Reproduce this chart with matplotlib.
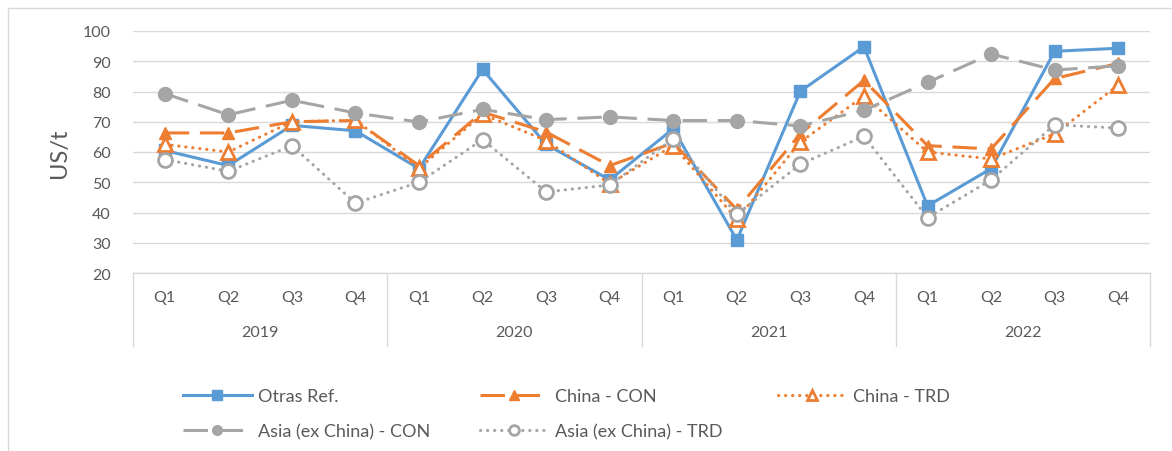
import matplotlib
matplotlib.use("Agg")
import matplotlib.pyplot as plt
from matplotlib.lines import Line2D
from matplotlib.patches import Rectangle

plt.rcParams['font.family'] = ['Lato', 'DejaVu Sans']

years = ["2019", "2020", "2021", "2022"]
quarters = ["Q1", "Q2", "Q3", "Q4"]

otras_ref = [60.5, 55.5, 68.8, 67.0, 54.5, 87.3, 62.5, 50.8,
             67.7, 30.9, 80.1, 94.8, 42.2, 54.5, 93.3, 94.3]
china_con = [66.3, 66.3, 70.0, 70.4, 55.5, 73.2, 66.6, 55.5,
             63.0, 41.0, 66.0, 83.7, 62.1, 61.0, 84.3, 89.3]
china_trd = [62.5, 60.0, 70.0, 70.5, 54.6, 72.5, 63.8, 49.5,
             62.1, 37.8, 63.3, 78.5, 60.0, 57.7, 66.0, 82.1]
asia_con = [79.3, 72.3, 77.1, 72.9, 69.9, 74.1, 70.7, 71.6,
            70.4, 70.4, 68.6, 73.8, 83.0, 92.4, 87.1, 88.5]
asia_trd = [57.5, 53.6, 62.1, 43.1, 50.0, 64.1, 46.8, 49.1,
            64.4, 39.4, 56.0, 65.2, 38.3, 50.8, 69.0, 67.9]

BLUE = "#5B9BD5"
ORANGE = "#ED7D31"
GREY = "#A5A5A5"
TEXT = "#595959"
GRID = "#D9D9D9"

W, H = 1172, 452
fig = plt.figure(figsize=(W / 100, H / 100), dpi=100)

# chart-area frame
fig.patches.append(Rectangle((8 / W, -0.1), 1.2, 1 - 9 / H + 0.1,
                             transform=fig.transFigure, fill=False,
                             edgecolor="#D9D9D9", lw=1.0))

ax = fig.add_axes([133 / W, 1 - 274 / H, (1150 - 133) / W, (274 - 32) / H])

n = len(otras_ref)
x = list(range(n))

lw = 2.2
DASH = (8, 3.5)
DOT = (0.1, 2.2)

series = [
    dict(y=otras_ref, label="Otras Ref.", color=BLUE, ls="-", marker="s",
         ms=8, mfc=BLUE, mew=1, lms=6.5),
    dict(y=china_con, label="China - CON", color=ORANGE, ls=DASH, marker="^",
         ms=9, mfc=ORANGE, mew=1, lms=7),
    dict(y=china_trd, label="China - TRD", color=ORANGE, ls=DOT, marker="^",
         ms=10, mfc="white", mew=2, lms=7),
    dict(y=asia_con, label="Asia (ex China) - CON", color=GREY, ls=DASH, marker="o",
         ms=10, mfc=GREY, mew=1, lms=7),
    dict(y=asia_trd, label="Asia (ex China) - TRD", color=GREY, ls=DOT, marker="o",
         ms=10, mfc="white", mew=2, lms=7),
]

legend_handles = {}
for z, s in enumerate(series):
    kw = dict(color=s["color"], lw=lw, marker=s["marker"], mfc=s["mfc"],
              mec=s["color"], mew=s["mew"])
    if s["ls"] == "-":
        kw["linestyle"] = "-"
    else:
        kw["dashes"] = s["ls"]
        if s["ls"] is DOT:
            kw["dash_capstyle"] = "round"
    ax.plot(x, s["y"], ms=s["ms"], zorder=3 + z, **kw)
    legend_handles[s["label"]] = Line2D([], [], ms=s["lms"], **kw)

ax.set_xlim(-0.5, n - 0.5)
ax.set_ylim(20, 100)
ax.set_yticks(range(20, 101, 10))
ax.yaxis.grid(True, color=GRID, lw=1.0)
ax.set_axisbelow(True)
for sp in ax.spines.values():
    sp.set_visible(False)
ax.tick_params(axis="y", length=0, pad=16, labelsize=11.5, labelcolor=TEXT)
ax.set_xticks([])
ax.set_ylabel("US/t", fontsize=17, color=TEXT, labelpad=9)

# two-level category axis: quarters over years
trans = ax.get_xaxis_transform()
ph = 274 - 32
ax.plot([-0.5, n - 0.5], [0, 0], transform=trans, color=GRID, lw=1.0, clip_on=False)
sep_bottom = -(347 - 274) / ph
for k in range(len(years) + 1):
    xs = -0.5 + 4 * k
    ax.plot([xs, xs], [0, sep_bottom], transform=trans, color=GRID, lw=1.0, clip_on=False)
for i in range(n):
    ax.text(i, -(298 - 274) / ph, quarters[i % 4], transform=trans, ha="center",
            va="center", fontsize=11.5, color=TEXT)
for k, yr in enumerate(years):
    ax.text(4 * k + 1.5, -(333 - 274) / ph, yr, transform=trans, ha="center",
            va="center", fontsize=11.5, color=TEXT)

# legend laid out in three columns, filled row by row
columns = [(183, ["Otras Ref.", "Asia (ex China) - CON"]),
           (480, ["China - CON", "Asia (ex China) - TRD"]),
           (778, ["China - TRD"])]
for xpix, labs in columns:
    leg = fig.legend([legend_handles[l] for l in labs], labs, loc="upper left",
                     bbox_to_anchor=(xpix / W, 1 - 389 / H), frameon=False,
                     fontsize=13, handlelength=3.8, handletextpad=0.35,
                     labelspacing=1.05, borderpad=0, borderaxespad=0)
    for t in leg.get_texts():
        t.set_color(TEXT)

fig.savefig("out.png", dpi=100)
